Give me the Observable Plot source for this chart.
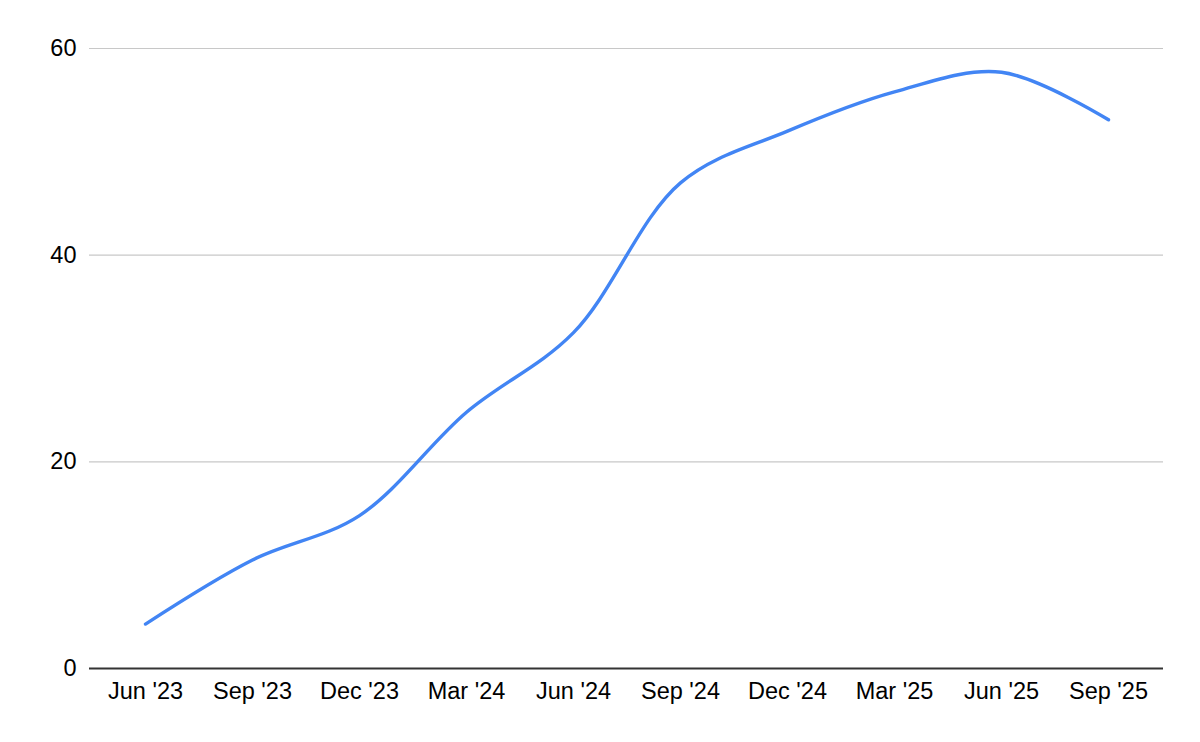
<!DOCTYPE html>
<html>
<head>
<meta charset="utf-8">
<script src="https://cdn.jsdelivr.net/npm/d3@7"></script>
<script src="https://cdn.jsdelivr.net/npm/@observablehq/plot@0.6"></script>
<style>
  html, body { margin: 0; padding: 0; background: #fff; }
  #chart { width: 1200px; height: 742px; }
</style>
</head>
<body>
<div id="chart"></div>
<script>
const quarters = ["Jun '23", "Sep '23", "Dec '23", "Mar '24", "Jun '24", "Sep '24", "Dec '24", "Mar '25", "Jun '25", "Sep '25"];
const values = [4.3, 10.5, 14.8, 24.8, 32.5, 47.0, 52.0, 55.8, 57.7, 53.1];
const yTicks = [0, 20, 40, 60];

const data = quarters.map((q, i) => ({q, v: values[i]}));

const chart = Plot.plot({
  width: 1200,
  height: 742,
  marginLeft: 89,
  marginRight: 37,
  marginTop: 48,
  marginBottom: 74,
  style: {fontFamily: "'Liberation Sans', Arial, sans-serif", fontSize: "23.5px", color: "#000", background: "#fff"},
  x: {type: "point", domain: quarters, padding: 0.5, label: null},
  y: {domain: [0, 60], label: null},
  marks: [
    Plot.gridY(yTicks.filter(d => d > 0), {stroke: "#c8c8c8", strokeOpacity: 1, strokeWidth: 1.2}),
    Plot.axisY(yTicks, {tickSize: 0, tickPadding: 13, label: null, fontSize: 23.5}),
    Plot.axisX({tickSize: 0, tickPadding: 14, label: null, fontSize: 23.5}),
    Plot.ruleY([0], {stroke: "#333333", strokeWidth: 2}),
    Plot.line(data, {x: "q", y: "v", stroke: "#4285F4", strokeWidth: 3.4, curve: "catmull-rom"})
  ]
});
document.getElementById("chart").appendChild(chart);
</script>
</body>
</html>
